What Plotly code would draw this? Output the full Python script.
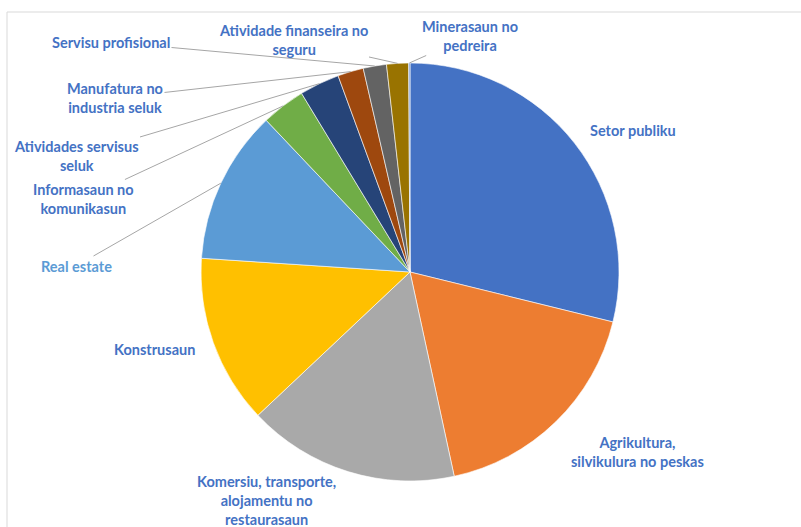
import math
import plotly.graph_objects as go

# ---- data ----
categories = [
    "Setor publiku",
    "Agrikultura, silvikulura no peskas",
    "Komersiu, transporte, alojamentu no restaurasaun",
    "Konstrusaun",
    "Real estate",
    "Informasaun no komunikasun",
    "Atividades servisus seluk",
    "Manufatura no industria seluk",
    "Servisu profisional",
    "Atividade finanseira no seguru",
    "Minerasaun no pedreira",
]
shares = [28.9, 17.8, 16.4, 13.1, 11.9, 3.4, 3.1, 2.0, 1.8, 1.7, 0.1]
label_text = [
    "Setor publiku",
    "Agrikultura,<br>silvikulura no peskas",
    "Komersiu, transporte,<br>alojamentu no<br>restaurasaun",
    "Konstrusaun",
    "Real estate",
    "Informasaun no<br>komunikasun",
    "Atividades servisus<br>seluk",
    "Manufatura no<br>industria seluk",
    "Servisu profisional",
    "Atividade finanseira no<br>seguru",
    "Minerasaun no<br>pedreira",
]

# ---- style ----
slice_colors = ["#4472C4", "#ED7D31", "#A9A9A9", "#FFC000", "#5B9BD5", "#70AD47",
                "#264478", "#9E480E", "#636363", "#997300", "#698ED0"]
label_colors = ["#4472C4"] * 4 + ["#5B9BD5"] + ["#4472C4"] * 6
label_pos = [(633, 130), (637, 452), (266, 500), (154, 349), (76, 266), (83, 199),
             (76, 156), (115, 98), (111, 42), (293, 40), (470, 36)]
has_leader = [False, False, False, False, True, True, True, True, True, True, True]

W, H = 801, 527
CX, CY, R = 410, 272, 209

fig = go.Figure()
fig.add_trace(go.Pie(
    labels=categories, values=shares, sort=False, direction="clockwise", rotation=0,
    marker=dict(colors=slice_colors, line=dict(color="white", width=0.6)),
    textinfo="none", hoverinfo="label+percent", showlegend=False,
    domain=dict(x=[(CX - R) / W, (CX + R) / W], y=[(H - CY - R) / H, (H - CY + R) / H]),
))
fig.add_trace(go.Scatter(x=[None], y=[None], xaxis="x", yaxis="y", showlegend=False,
                         hoverinfo="skip", mode="markers"))

total = sum(shares)
cum = 0.0
annotations = []
for i, v in enumerate(shares):
    mid = math.radians((cum + v / 2) / total * 360.0)
    cum += v
    tx = CX + R * math.sin(mid)
    ty = CY - R * math.cos(mid)
    lx, ly = label_pos[i]
    font = dict(family="Lato, Open Sans, sans-serif", size=14.5, color=label_colors[i])
    if has_leader[i]:
        annotations.append(dict(
            x=tx, y=ty, xref="x", yref="y", ax=lx, ay=ly, axref="x", ayref="y",
            text="<b>" + label_text[i] + "</b>", showarrow=True, arrowhead=0,
            arrowwidth=1, arrowcolor="#A6A6A6", standoff=0, align="center", font=font,
        ))
    else:
        annotations.append(dict(
            x=lx, y=ly, xref="x", yref="y", text="<b>" + label_text[i] + "</b>",
            showarrow=False, align="center", xanchor="center", yanchor="middle", font=font,
        ))

fig.update_layout(
    width=W, height=H, margin=dict(l=0, r=0, t=0, b=0),
    paper_bgcolor="white", plot_bgcolor="white",
    xaxis=dict(range=[0, W], visible=False, fixedrange=True),
    yaxis=dict(range=[H, 0], visible=False, fixedrange=True),
    annotations=annotations,
    shapes=[dict(type="rect", xref="x", yref="y", x0=7, y0=12, x1=W + 20, y1=H + 20,
                 line=dict(color="#D9D9D9", width=1), layer="below")],
)

fig.write_html("out.html", config={"displayModeBar": False},
               post_script="document.body.style.margin='0';")
